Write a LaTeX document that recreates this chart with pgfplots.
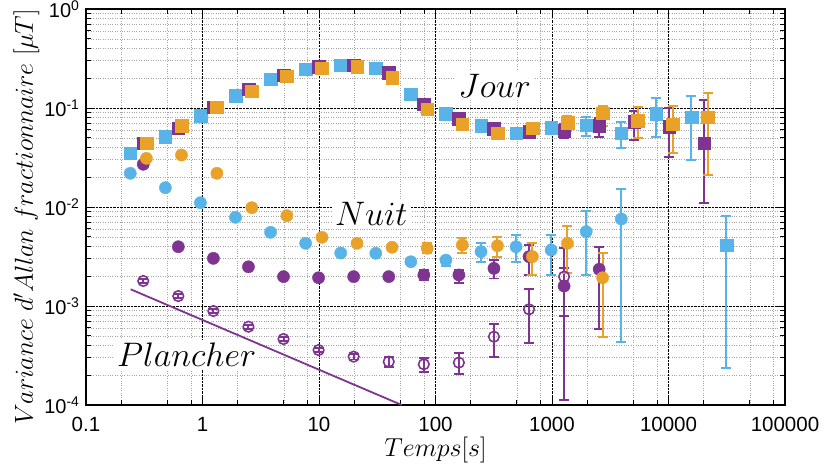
\RequirePackage{fix-cm}
\documentclass[border=0pt]{standalone}
\usepackage[no-math]{fontspec}
\setmainfont{Liberation Sans}
\usepackage{pgfplots}
\usepackage{pgfplotstable}
\pgfplotsset{compat=1.18}
\definecolor{cb}{RGB}{88,180,232}
\definecolor{cp}{RGB}{126,52,144}
\definecolor{co}{RGB}{233,161,40}

\pgfplotstableread{
x y ep em
0.24 0.0349 0 0
0.48 0.0513 0 0
0.96 0.0836 0 0
1.92 0.1322 0 0
3.84 0.1949 0 0
7.68 0.2460 0 0
15.36 0.2718 0 0
30.72 0.2518 0 0
61.44 0.1375 0 0
122.9 0.0870 0 0
245.8 0.0663 0 0
491.5 0.0555 0 0
983 0.0632 0 0
1966 0.0673 0.0132 0.0148
3932 0.0555 0.0162 0.0163
7864 0.0870 0.0401 0.0357
15729 0.0805 0.0517 0.0507
31457 0.00413 0.00404 0.003895
}\jB

\pgfplotstableread{
x y ep em
0.31 0.0443 0 0
0.62 0.0623 0 0
1.24 0.1016 0 0
2.48 0.1545 0 0
4.96 0.2154 0 0
9.92 0.2614 0 0
19.84 0.2718 0 0
39.7 0.2273 0 0
79.4 0.1097 0 0
158.7 0.0780 0 0
317.4 0.0614 0 0
634.9 0.0576 0 0
1270 0.0590 0.0099 0.0092
2540 0.0663 0.0124 0.0150
5080 0.0727 0.0206 0.0252
10160 0.0648 0.0345 0.0326
20320 0.0440 0.0765 0.03295
}\jP

\pgfplotstableread{
x y ep em
0.33 0.0443 0 0
0.66 0.0663 0 0
1.33 0.1016 0 0
2.65 0.1485 0 0
5.3 0.2090 0 0
10.6 0.2518 0 0
21.2 0.2614 0 0
42.4 0.2023 0 0
84.9 0.0977 0 0
170 0.0689 0 0
340 0.0555 0 0
679 0.0623 0 0
1358 0.0714 0.0116 0.0128
2717 0.0884 0.0163 0.0226
5434 0.0744 0.0272 0.0250
10867 0.0689 0.0358 0.0340
21734 0.0805 0.0622 0.0595
}\jO

\pgfplotstableread{
x y ep em
0.24 0.0219 0 0
0.48 0.01567 0 0
0.96 0.01105 0 0
1.92 0.00787 0 0
3.84 0.00555 0 0
7.68 0.00430 0 0
15.36 0.00343 0 0
30.72 0.00341 0 0
61.44 0.00280 0 0
122.9 0.00291 0.00019 0.00037
245.8 0.00354 0.00076 0.00074
491.5 0.00397 0.00125 0.00117
983 0.00368 0.00154 0.00162
1966 0.00563 0.00355 0.00357
3932 0.00757 0.00753 0.00714
}\nB

\pgfplotstableread{
x y ep em
0.31 0.0270 0 0
0.62 0.00397 0 0
1.24 0.00303 0 0
2.48 0.00249 0 0
4.96 0.00198 0 0
9.92 0.00193 0 0
19.84 0.00198 0 0
39.7 0.00198 0 0
79.4 0.00206 0.00025 0.00023
158.7 0.00206 0.00025 0.00034
317.4 0.00240 0.00051 0.00050
634.9 0.00315 0.00098 0.00109
1270 0.00159 0.00224 0.001478
2540 0.00235 0.00162 0.001764
}\nP

\pgfplotstableread{
x y ep em
0.33 0.0310 0 0
0.66 0.0335 0 0
1.33 0.0219 0 0
2.65 0.00984 0 0
5.3 0.00817 0 0
10.6 0.00494 0 0
21.2 0.00430 0 0
42.4 0.00392 0 0
84.9 0.00383 0.0005 0.0004
170 0.00413 0.0007 0.00067
340 0.00406 0.00095 0.00096
679 0.00315 0.00115 0.00109
1358 0.00430 0.00217 0.00213
2717 0.00193 0.00147 0.00144
}\nO

\pgfplotstableread{
x y ep em
0.31 0.00179 0.00007 0.00007
0.62 0.00126 0.00005 0.00005
1.24 0.00089 0.00004 0.00004
2.48 0.000618 0.00003 0.00003
4.96 0.000464 0.00002 0.00002
9.92 0.000359 0.000017 0.000017
19.84 0.000308 0.00002 0.00002
39.7 0.000274 0.000034 0.00003
79.4 0.000258 0.000038 0.000041
158.7 0.000268 0.000065 0.000064
317.4 0.000490 0.000168 0.000182
634.9 0.000926 0.00055 0.000506
1270 0.00198 0.00042 0.00119
}\pP

\pgfplotsset{
  ebars/.style={
    error bars/y dir=both, error bars/y explicit,
    error bars/error bar style={color=#1, line width=2pt, solid},
    error bars/error mark options={color=#1, line width=1.8pt, mark size=5pt, rotate=90}},
  ser/.style n args={3}{color=#1, only marks, mark=#2, mark size=#3,
    mark options={fill=#1, draw=#1, line width=0.4pt, solid}, ebars=#1},
}

\begin{document}
\begin{tikzpicture}
\begin{axis}[
  scale only axis, width=699pt, height=396pt,
  xmode=log, ymode=log,
  xmin=0.1, xmax=100000, ymin=1e-4, ymax=1,
  xtick={0.1,1,10,100,1000,10000,100000},
  xticklabels={0.1,1,10,100,1000,10000,100000},
  ytick={1e-4,1e-3,1e-2,1e-1,1},
  yticklabels={10\textsuperscript{-4},10\textsuperscript{-3},10\textsuperscript{-2},10\textsuperscript{-1},10\textsuperscript{0}},
  minor xtick={0.2,0.5,0.8,2,5,8,20,50,80,200,500,800,2000,5000,8000,20000,50000,80000},
  minor ytick={2e-4,3e-4,4e-4,5e-4,6e-4,7e-4,8e-4,9e-4,
               2e-3,3e-3,4e-3,5e-3,6e-3,7e-3,8e-3,9e-3,
               2e-2,3e-2,4e-2,5e-2,6e-2,7e-2,8e-2,9e-2,
               0.2,0.3,0.4,0.5,0.6,0.7,0.8,0.9},
  grid=both,
  major grid style={black, densely dotted, line width=0.7pt},
  minor grid style={black!35, dotted, line width=0.6pt},
  axis line style={line width=1.6pt},
  tick align=inside,
  major tick length=9pt, minor tick length=5pt,
  every tick/.style={black, line width=1pt},
  xticklabel style={font=\fontsize{20.5}{24}\selectfont, anchor=base, yshift=-26pt},
  yticklabel style={font=\fontsize{20}{24}\selectfont, xshift=-3pt},
  every axis x label/.style={at={(axis description cs:0.5,0)}, yshift=-51pt, anchor=base, font=\fontsize{26}{30}\selectfont},
  every axis y label/.style={at={(axis description cs:0,0.5)}, xshift=-53pt, yshift=-10pt, rotate=90, anchor=base, font=\fontsize{26}{30}\selectfont},
  xlabel={$Temps[s]$},
  ylabel={$Variance\ d'Allan\ fractionnaire\ [\mu T]$},
]
\node[fill=white, inner sep=3pt, anchor=base, font=\fontsize{34}{40}\selectfont] at (axis cs:322,0.129) {$Jour$};
\node[fill=white, inner sep=3pt, anchor=base, font=\fontsize{34}{40}\selectfont] at (axis cs:28.1,0.00658) {$Nuit$};
\node[fill=white, inner sep=3pt, anchor=base, font=\fontsize{34}{40}\selectfont] at (axis cs:0.731,0.000244) {$Plancher$};

\addplot[cp, line width=1.8pt] coordinates {(0.2417,0.001475) (51.3,0.0001)};

\addplot[ser={cb}{square*}{6.3pt}] table[x=x, y=y, y error plus=ep, y error minus=em] {\jB};
\addplot[ser={cb}{*}{6.1pt}] table[x=x, y=y, y error plus=ep, y error minus=em] {\nB};
\addplot[ser={cp}{o}{5.3pt}, mark options={draw=cp, fill=none, line width=1.6pt}] table[x=x, y=y, y error plus=ep, y error minus=em] {\pP};
\addplot[ser={cp}{square*}{6.3pt}] table[x=x, y=y, y error plus=ep, y error minus=em] {\jP};
\addplot[ser={cp}{*}{6.1pt}] table[x=x, y=y, y error plus=ep, y error minus=em] {\nP};
\addplot[ser={co}{square*}{6.3pt}] table[x=x, y=y, y error plus=ep, y error minus=em] {\jO};
\addplot[ser={co}{*}{6.1pt}] table[x=x, y=y, y error plus=ep, y error minus=em] {\nO};
\end{axis}
\pgfresetboundingbox
\path[use as bounding box] ([shift={(-86pt,-60pt)}]current axis.south west) rectangle ([shift={(42pt,9pt)}]current axis.north east);
\end{tikzpicture}
\end{document}
